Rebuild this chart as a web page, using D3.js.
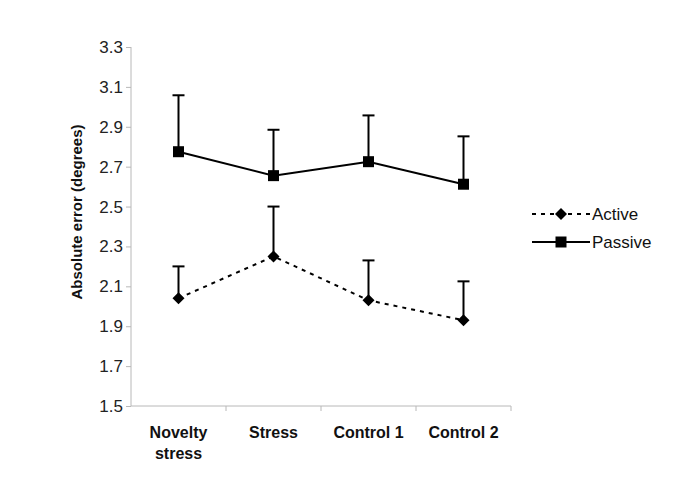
<!DOCTYPE html>
<html><head><meta charset="utf-8">
<script src="https://cdn.jsdelivr.net/npm/d3@7"></script>
<style>body{margin:0;background:#fff}svg{display:block}</style>
</head><body>
<svg id="c" width="685" height="489"></svg>
<script>
const categories = [["Novelty","stress"],["Stress"],["Control 1"],["Control 2"]];
const activeMean = [2.04, 2.25, 2.03, 1.93];
const activeErr = [0.16, 0.25, 0.20, 0.195];
const passiveMean = [2.775, 2.655, 2.725, 2.612];
const passiveErr = [0.283, 0.23, 0.232, 0.24];
const yTicks = [1.5,1.7,1.9,2.1,2.3,2.5,2.7,2.9,3.1,3.3];

const svg = d3.select("#c");
const font = "Liberation Sans, Arial, sans-serif";
const x = d3.scaleBand().domain(d3.range(categories.length)).range([131, 511]);
const y = d3.scaleLinear().domain([1.5, 3.3]).range([406, 47]);
const axisCol = "#b8b8b8";

// y axis
const ya = svg.append("g").attr("transform","translate(131,0)")
  .call(d3.axisLeft(y).tickValues(yTicks).tickFormat(d3.format(".1f")).tickSize(5).tickPadding(3));
ya.select(".domain").attr("stroke",axisCol).attr("d","M0,406V47");
ya.selectAll(".tick line").attr("stroke",axisCol);
ya.selectAll(".tick text").attr("font-family",font).attr("font-size",17).attr("fill","#222");

// x axis
const xa = svg.append("g").attr("transform","translate(0,406)");
xa.append("line").attr("x1",131).attr("x2",511).attr("stroke",axisCol);
const bounds = d3.range(categories.length+1).map(i => i < categories.length ? x(i) : x(i-1)+x.bandwidth());
xa.selectAll("line.t").data(bounds.slice(1)).join("line").attr("class","t")
  .attr("x1",d=>d).attr("x2",d=>d).attr("y1",0).attr("y2",5).attr("stroke",axisCol);
const lab = svg.append("g");
categories.forEach((c,i)=>{
  const t = lab.append("text").attr("x", x(i)+x.bandwidth()/2).attr("y",438)
    .attr("text-anchor","middle").attr("font-family",font).attr("font-weight","bold").attr("font-size",16).attr("fill","#111");
  c.forEach((line,j)=> t.append("tspan").attr("x", x(i)+x.bandwidth()/2).attr("dy", j===0?0:21).text(line));
});

// y title
svg.append("text").attr("transform","translate(82,212) rotate(-90)").attr("text-anchor","middle")
  .attr("font-family",font).attr("font-weight","bold").attr("font-size",15).attr("fill","#111")
  .text("Absolute error (degrees)");

const cx = i => x(i)+x.bandwidth()/2;
function series(mean, err, dash, marker){
  const g = svg.append("g");
  mean.forEach((m,i)=>{
    g.append("line").attr("x1",cx(i)).attr("x2",cx(i)).attr("y1",y(m)).attr("y2",y(m+err[i])).attr("stroke","#000").attr("stroke-width",2);
    g.append("line").attr("x1",cx(i)-6).attr("x2",cx(i)+6).attr("y1",y(m+err[i])).attr("y2",y(m+err[i])).attr("stroke","#000").attr("stroke-width",2);
  });
  g.append("path").datum(mean).attr("d", d3.line().x((d,i)=>cx(i)).y(d=>y(d)))
    .attr("fill","none").attr("stroke","#000").attr("stroke-width",2).attr("stroke-dasharray",dash);
  g.selectAll("path.m").data(mean).join("path").attr("class","m")
    .attr("transform",(d,i)=>`translate(${cx(i)},${y(d)})`)
    .attr("d", marker).attr("fill","#000");
}
const diamond = "M0,-6L6,0L0,6L-6,0Z";
const square = "M-5.5,-5.5H5.5V5.5H-5.5Z";
series(activeMean, activeErr, "4,5", diamond);
series(passiveMean, passiveErr, null, square);

// legend
const leg = svg.append("g");
[["Active","4,5",diamond,214],["Passive",null,square,242]].forEach(([name,dash,mk,ly])=>{
  leg.append("line").attr("x1",532).attr("x2",590).attr("y1",ly).attr("y2",ly).attr("stroke","#000").attr("stroke-width",2).attr("stroke-dasharray",dash);
  leg.append("path").attr("d",mk).attr("transform",`translate(561,${ly})`).attr("fill","#000");
  leg.append("text").attr("x",592).attr("y",ly+6).attr("font-family",font).attr("font-size",17).attr("fill","#111").text(name);
});
</script>
</body></html>
